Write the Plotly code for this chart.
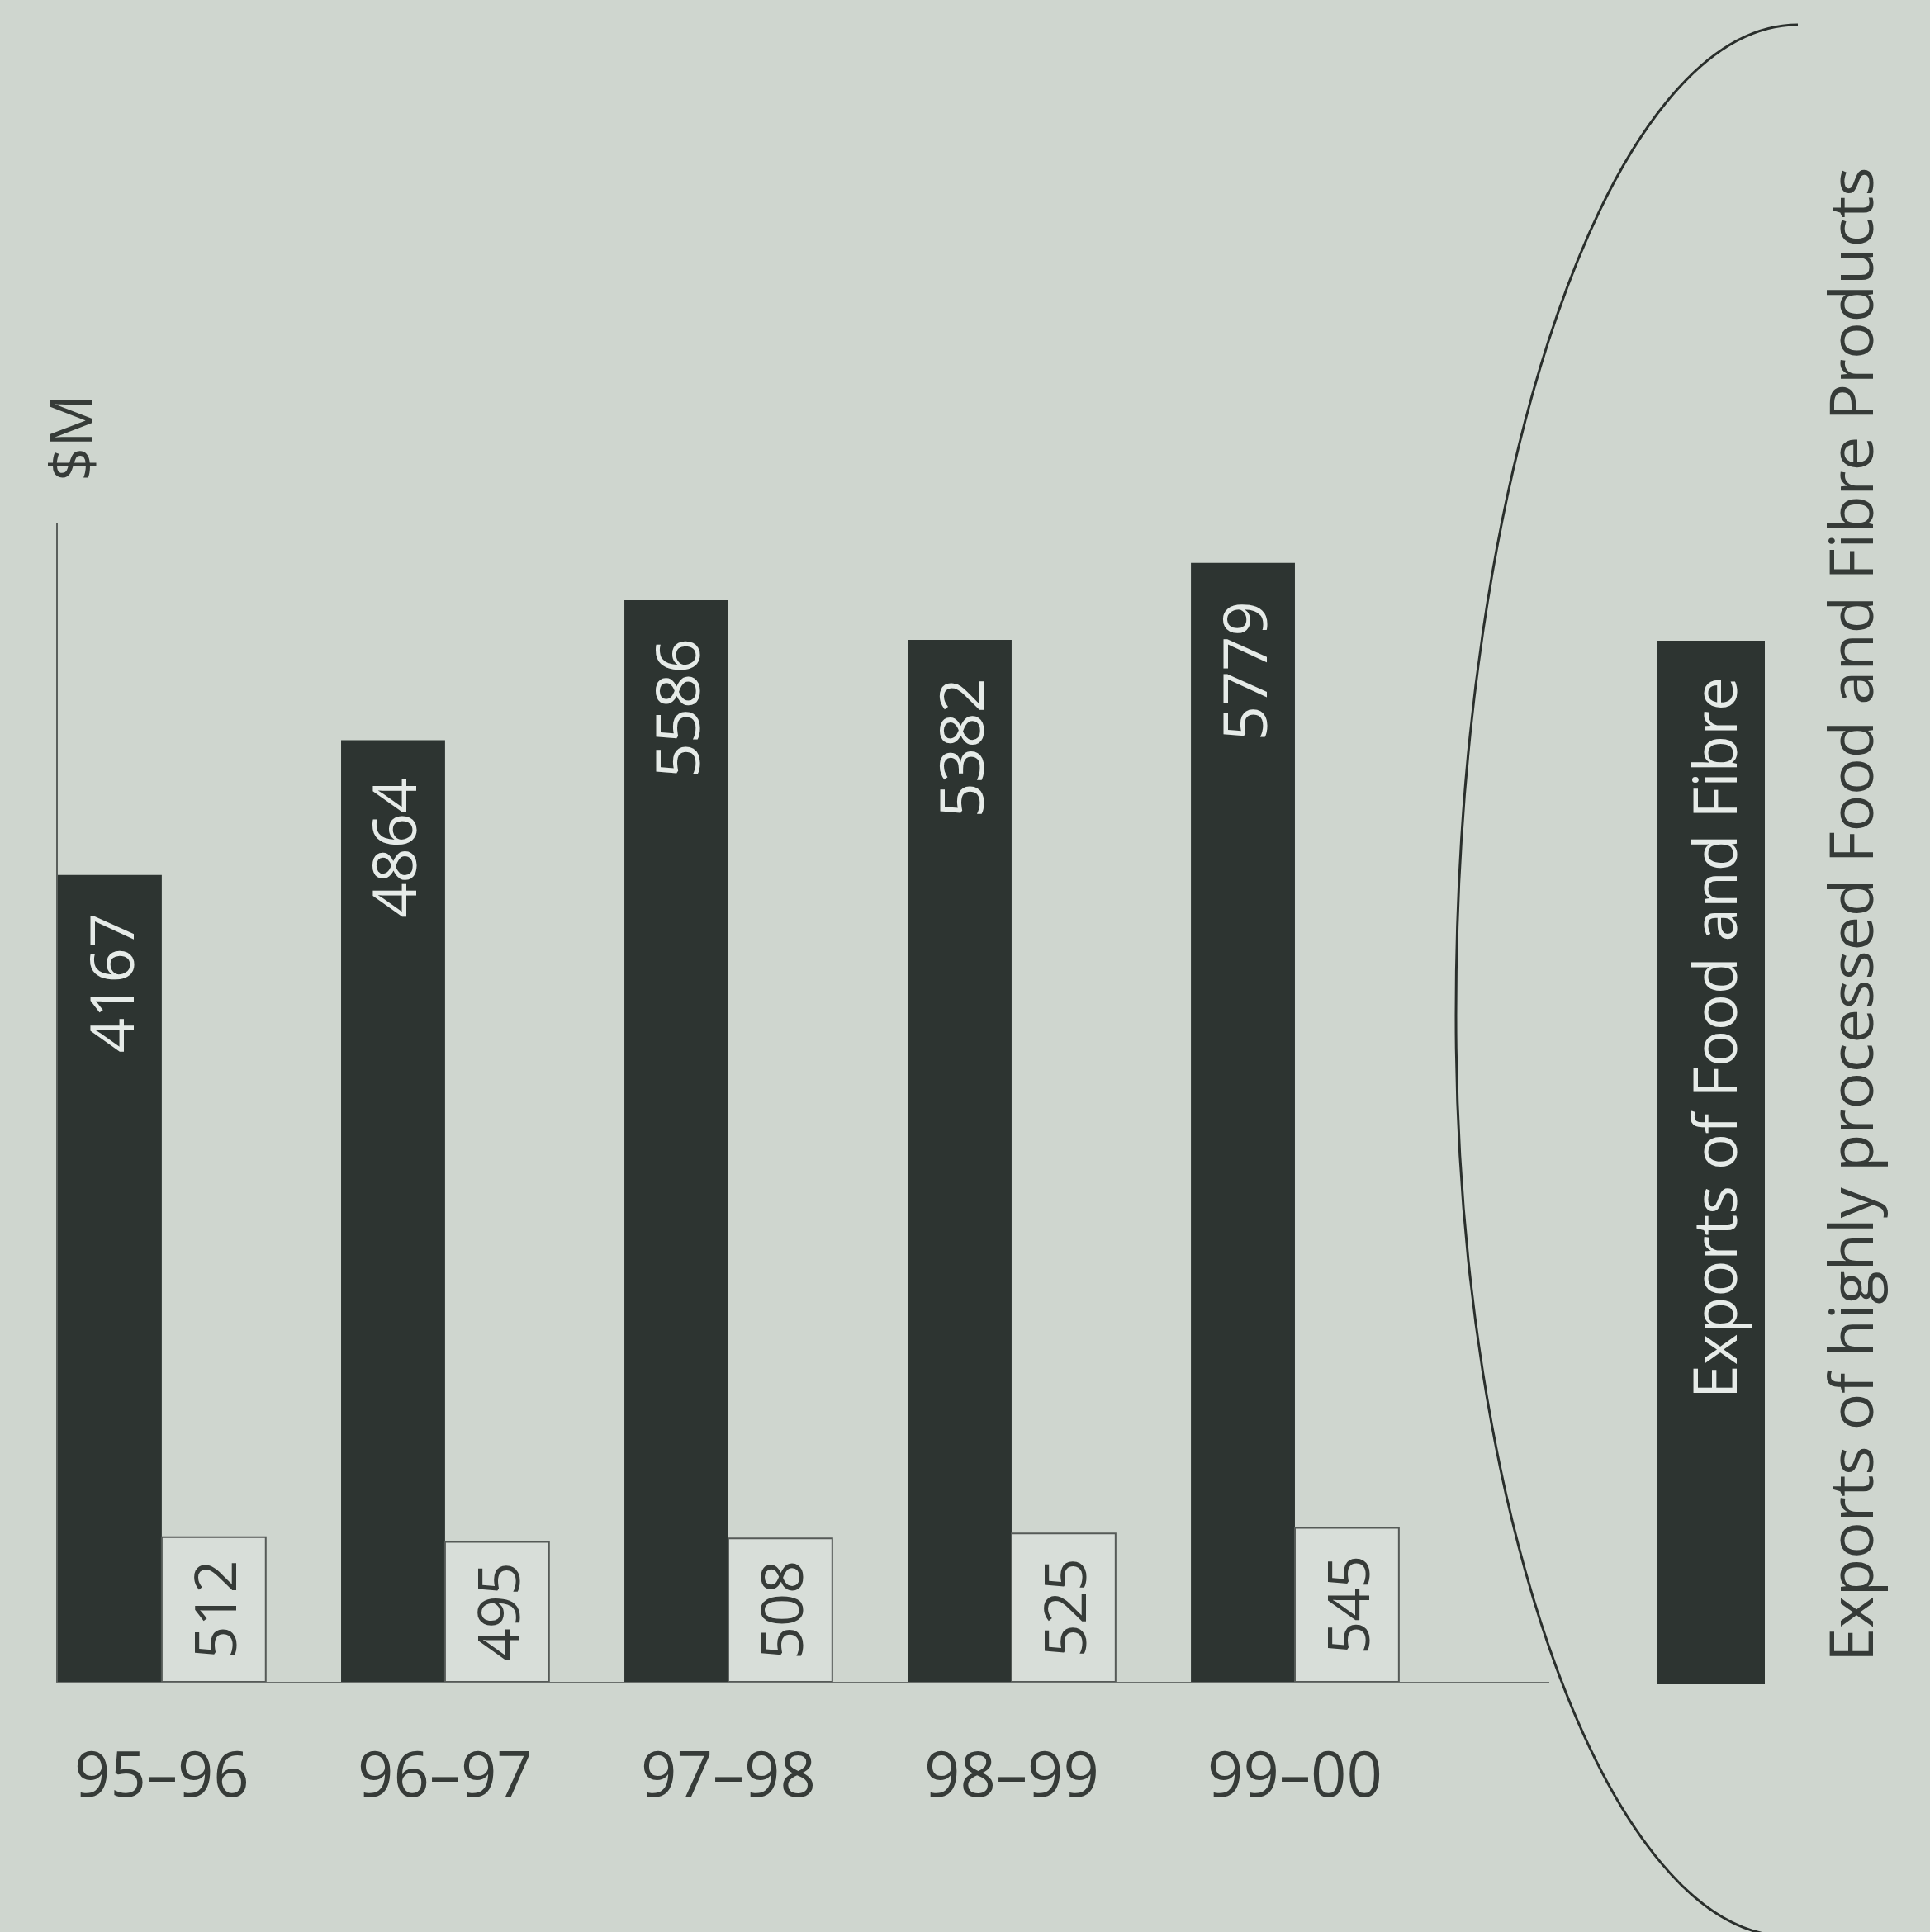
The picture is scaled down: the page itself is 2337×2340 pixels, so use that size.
import plotly.graph_objects as go

# Financial years and export values ($M)
years = ["95–96", "96–97", "97–98", "98–99", "99–00"]
food_fibre = [4167, 4864, 5586, 5382, 5779]
highly_processed = [512, 495, 508, 525, 545]

legend_dark = "Exports of Food and Fibre"
legend_light = "Exports of highly processed Food and Fibre Products"
unit_label = "$M"

# Page / plot-area geometry (pixels)
W_PX, H_PX = 2337, 2340
L, R, T, B = 70, 1876, 634, 2037
PW, PH = R - L, B - T

BG = "#cfd6cf"
DARK = "#2d3431"
LIGHT = "#d8ded9"
INK = "#363b38"
FONT = "Open Sans"


def px(x):
    return (x - L) / PW


def py(y):
    return (B - y) / PH


bar_w = 0.367

fig = go.Figure()
fig.add_trace(go.Bar(
    x=years, y=food_fibre, name=legend_dark,
    width=bar_w, offset=-bar_w,
    marker=dict(color=DARK, line=dict(width=0)),
    yaxis="y", hoverinfo="skip",
))
fig.add_trace(go.Bar(
    x=years, y=highly_processed, name=legend_light,
    width=bar_w, offset=0,
    marker=dict(color=LIGHT, line=dict(color="#555a57", width=2)),
    text=[str(v) for v in highly_processed],
    textposition="inside", insidetextanchor="middle", textangle=-90,
    constraintext="none",
    textfont=dict(family=FONT, size=70, color=INK),
    yaxis="y2", hoverinfo="skip",
))

annotations = []
# value labels near the top of the dark bars
for yr, v in zip(years, food_fibre):
    annotations.append(dict(
        x=yr, y=v, xref="x", yref="y", text=str(v), showarrow=False,
        textangle=-90, xanchor="center", yanchor="top",
        xshift=-63, yshift=-44,
        font=dict(family=FONT, size=74, color="#e6ebe8"),
    ))

# unit label above the value axis
annotations.append(dict(
    x=px(84), y=py(530), xref="paper", yref="paper", text=unit_label,
    showarrow=False, textangle=-90, xanchor="center", yanchor="middle",
    font=dict(family=FONT, size=72, color=INK),
))
# key: dark swatch with its caption, and caption for the light series
annotations.append(dict(
    x=px(2074), y=py(1257), xref="paper", yref="paper", text=legend_dark,
    showarrow=False, textangle=-90, xanchor="center", yanchor="middle",
    font=dict(family=FONT, size=73, color="#e6ebe8"),
))
annotations.append(dict(
    x=px(2239), y=py(1108), xref="paper", yref="paper", text=legend_light,
    showarrow=False, textangle=-90, xanchor="center", yanchor="middle",
    font=dict(family=FONT, size=74, color=INK),
))

# bracket arc enclosing the key (two cubic quarter-ellipse segments)
cx, cy, a, b1, b2, k = 2185, 1230, 422, 1200, 1115, 0.5523
pts = [
    (cx - 8, cy - b1),
    (cx - k * a, cy - b1), (cx - a, cy - k * b1), (cx - a, cy),
    (cx - a, cy + k * b2), (cx - k * a, cy + b2), (cx - 20, cy + b2),
]
P = [f"{px(x):.5f},{py(y):.5f}" for x, y in pts]
arc_path = f"M {P[0]} C {P[1]} {P[2]} {P[3]} C {P[4]} {P[5]} {P[6]}"

shapes = [
    dict(type="path", xref="paper", yref="paper", path=arc_path,
         line=dict(color="#2a2f2c", width=3)),
    dict(type="rect", xref="paper", yref="paper",
         x0=px(2007), x1=px(2137), y0=py(2040), y1=py(776),
         fillcolor=DARK, line=dict(width=0)),
]

fig.update_layout(
    width=W_PX, height=H_PX,
    margin=dict(l=L, r=W_PX - R, t=T, b=H_PX - B, pad=0),
    paper_bgcolor=BG, plot_bgcolor=BG,
    barmode="overlay", showlegend=False,
    font=dict(family=FONT, color=INK),
    xaxis=dict(
        type="category", range=[-bar_w, 4.898],
        showline=True, linecolor="#6a6f6c", linewidth=2,
        showgrid=False, zeroline=False, ticks="",
        tickfont=dict(family=FONT, size=76, color=INK),
        ticklabelstandoff=46,
    ),
    yaxis=dict(
        range=[0, 5983], showline=True, linecolor="#5a5f5c", linewidth=2,
        showgrid=False, zeroline=False, showticklabels=False, ticks="",
    ),
    yaxis2=dict(
        range=[0, 4100], overlaying="y", visible=False,
    ),
    annotations=annotations,
    shapes=shapes,
)

fig.write_html("out.html")
